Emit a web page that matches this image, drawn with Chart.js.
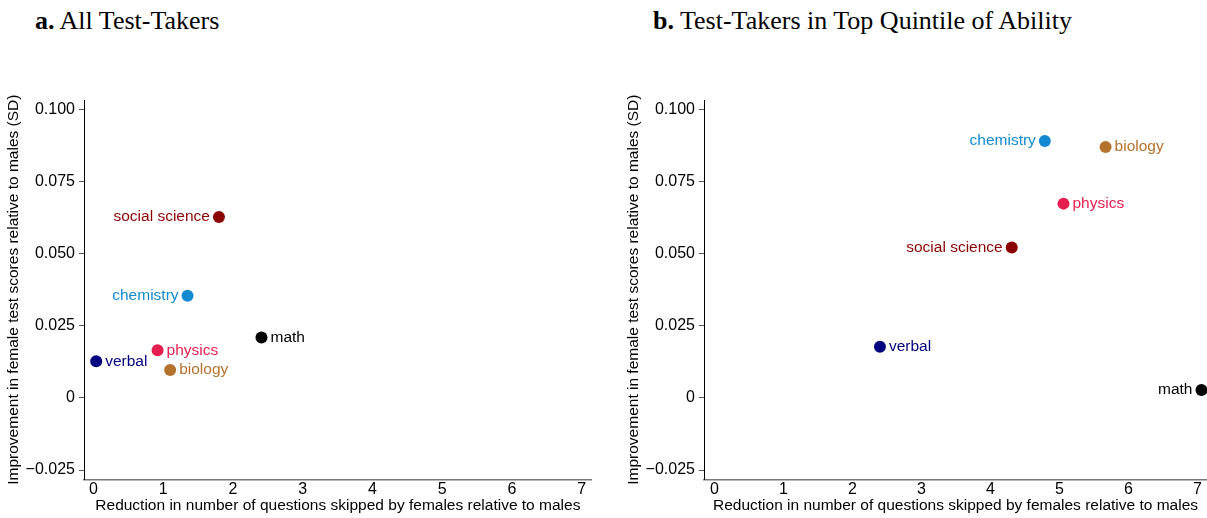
<!DOCTYPE html>
<html>
<head>
<meta charset="utf-8">
<script src="https://cdn.jsdelivr.net/npm/chart.js@4"></script>
<style>
  html, body { margin:0; padding:0; background:#fff; width:1207px; height:518px; overflow:hidden; position:relative; }
  .panel { position:absolute; top:0; height:518px; }
  .title { position:absolute; top:6px; font-family:"Liberation Serif","Times New Roman",serif; font-size:26px; color:#000; white-space:nowrap; }
  .title b { font-weight:bold; }
</style>
</head>
<body>
<div class="title" style="left:35px;"><b>a.</b> All Test-Takers</div>
<div class="title" style="left:653px;"><b>b.</b> Test-Takers in Top Quintile of Ability</div>
<div class="panel" style="left:0px;width:600px;"><canvas id="c1" width="600" height="518"></canvas></div>
<div class="panel" style="left:620px;width:600px;"><canvas id="c2" width="600" height="518"></canvas></div>
<script>
// ---- data ----
const subjects = ['social science', 'chemistry', 'math', 'physics', 'verbal', 'biology'];
const subjectColors = ['#8B0000', '#128AD2', '#000000', '#E51E50', '#000080', '#B5722E'];
const skippedAll = [1.80, 1.35, 2.41, 0.92, 0.04, 1.10];
const scoreAll   = [0.0627, 0.0354, 0.0209, 0.0165, 0.0127, 0.0097];
const skippedTop = [4.31, 4.79, 7.06, 5.06, 2.40, 5.67];
const scoreTop   = [0.0521, 0.0890, 0.0027, 0.0673, 0.0177, 0.0869];
const labelSideAll = ['left', 'left', 'right', 'right', 'right', 'right'];
const labelSideTop = ['left', 'left', 'left', 'right', 'right', 'right'];
const xTickValues = [0, 1, 2, 3, 4, 5, 6, 7];
const yTickValues = [-0.025, 0, 0.025, 0.050, 0.075, 0.100];
const xTitle = 'Reduction in number of questions skipped by females relative to males';
const yTitle = 'Improvement in female test scores relative to males (SD)';

const SANS = '"Liberation Sans", Arial, Helvetica, sans-serif';

const pointLabels = {
  id: 'pointLabels',
  afterDatasetsDraw(chart, args, opts) {
    const ctx = chart.ctx;
    const meta = chart.getDatasetMeta(0);
    ctx.save();
    ctx.font = '15.5px ' + SANS;
    ctx.textBaseline = 'middle';
    meta.data.forEach((pt, i) => {
      const side = opts.sides[i];
      ctx.fillStyle = subjectColors[i];
      if (side === 'left') {
        ctx.textAlign = 'right';
        ctx.fillText(subjects[i], pt.x - 9, pt.y);
      } else {
        ctx.textAlign = 'left';
        ctx.fillText(subjects[i], pt.x + 9, pt.y);
      }
    });
    ctx.restore();
  }
};

function makeChart(id, xs, ys, sides, xmin, xmax, padRight) {
  const data = xs.map((x, i) => ({ x: x, y: ys[i] }));
  return new Chart(document.getElementById(id), {
    type: 'scatter',
    data: {
      datasets: [{
        data: data,
        pointRadius: 6,
        pointHoverRadius: 6,
        pointBorderWidth: 0,
        pointBackgroundColor: subjectColors,
        pointBorderColor: subjectColors
      }]
    },
    plugins: [pointLabels],
    options: {
      responsive: false,
      animation: false,
      events: [],
      layout: { padding: { top: 100, right: padRight, left: 0, bottom: 0 } },
      plugins: {
        legend: { display: false },
        tooltip: { enabled: false },
        pointLabels: { sides: sides }
      },
      scales: {
        x: {
          type: 'linear',
          min: xmin, max: xmax,
          afterBuildTicks: s => { s.ticks = xTickValues.map(v => ({ value: v })); },
          afterFit: s => { s.height = 38.7; },
          grid: { display: true, drawOnChartArea: false, drawTicks: false },
          border: { display: true, color: '#777', width: 1.6 },
          ticks: { color: '#000', padding: 1, font: { family: SANS, size: 16 }, maxRotation: 0,
                   callback: v => String(v) },
          title: { display: true, text: xTitle, color: '#000', padding: { top: 0, bottom: 3 },
                   font: { family: SANS, size: 15.5 } }
        },
        y: {
          type: 'linear',
          min: -0.0282, max: 0.1032,
          afterBuildTicks: s => { s.ticks = yTickValues.map(v => ({ value: v })); },
          afterFit: s => { s.width = 84; },
          grid: { display: true, drawOnChartArea: false, drawTicks: true, tickLength: 5, color: '#555' },
          border: { display: true, color: '#000', width: 1 },
          ticks: { color: '#000', padding: 4, font: { family: SANS, size: 16 },
                   callback: v => (Math.abs(v) < 1e-9 ? '0' : v.toFixed(3).replace('-', '\u2212')) },
          title: { display: true, text: yTitle, color: '#000', padding: { top: 4, bottom: 0 },
                   font: { family: SANS, size: 15.5 } }
        }
      }
    }
  });
}

makeChart('c1', skippedAll, scoreAll, labelSideAll, -0.135, 7.145, 8.3);
makeChart('c2', skippedTop, scoreTop, labelSideTop, -0.15, 7.14, 13);
</script>
</body>
</html>
